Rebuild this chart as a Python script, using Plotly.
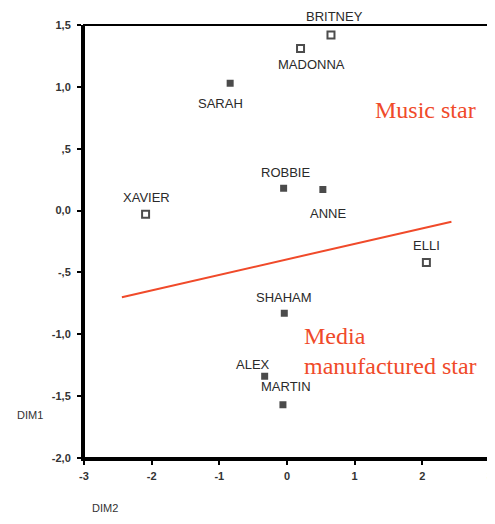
import plotly.graph_objects as go

names = ["BRITNEY", "MADONNA", "SARAH", "XAVIER", "ROBBIE", "ANNE", "ELLI", "SHAHAM", "ALEX", "MARTIN"]
dim2 = [0.65, 0.20, -0.84, -2.09, -0.05, 0.53, 2.06, -0.04, -0.33, -0.06]
dim1 = [1.42, 1.31, 1.03, -0.03, 0.18, 0.17, -0.42, -0.83, -1.34, -1.57]

line_x = [-2.44, 2.43]
line_y = [-0.70, -0.09]

x_ticks = [-3, -2, -1, 0, 1, 2, 3]
x_ticktext = ["-3", "-2", "-1", "0", "1", "2", "3"]
y_ticks = [1.5, 1.0, 0.5, 0.0, -0.5, -1.0, -1.5, -2.0]
y_ticktext = ["1,5", "1,0", ",5", "0,0", "-,5", "-1,0", "-1,5", "-2,0"]

# label offsets in pixels (style only)
label_dx = [4, 11, -10, 1, 2, 5, 0, 0, -12, 3]
label_dy = [18, -16, -20, 17, 16, -24, 17, 16, 12, 18]
hollow = [True, True, False, True, False, False, True, False, False, False]

RED = "#f04a2a"
OFF = 8  # page body margin
W, H = 495 - OFF, 524 - 2 * OFF
L, R, T, B = 84 - OFF, 5, 25 - OFF, 58
pw, ph = W - L - R, H - T - B

fig = go.Figure()

fig.add_trace(go.Scatter(
    x=line_x, y=line_y, mode="lines",
    line=dict(color=RED, width=2), hoverinfo="skip", showlegend=False))

fig.add_trace(go.Scatter(
    x=dim2, y=dim1, mode="markers",
    marker=dict(symbol=["square-open" if h else "square" for h in hollow],
                size=[7 if h else 5 for h in hollow], color="black",
                line=dict(color="black", width=2)),
    text=names, showlegend=False))

for n, xv, yv, dx, dy in zip(names, dim2, dim1, label_dx, label_dy):
    fig.add_annotation(x=xv, y=yv, text=n, showarrow=False, xshift=dx, yshift=dy,
                       font=dict(family="Arial", size=13, color="#2a2a2a"))

fig.add_annotation(x=2.04, y=0.81, text="Music star", showarrow=False,
                   xanchor="center",
                   font=dict(family="Liberation Serif", size=24, color=RED))
fig.add_annotation(x=0.22, y=-1.01, text="Media", showarrow=False, xanchor="left",
                   font=dict(family="Liberation Serif", size=24, color=RED))
fig.add_annotation(x=0.22, y=-1.26, text="manufactured star", showarrow=False,
                   xanchor="left",
                   font=dict(family="Liberation Serif", size=24, color=RED))


def to_paper(sx, sy):
    # screen pixel (reference image coords) -> plot-area paper coords
    return (sx - OFF - L) / pw, 1 - (sy - OFF - T) / ph


for txt, sx, sy in [("DIM1", 30, 415), ("DIM2", 105, 508)]:
    px, py = to_paper(sx, sy)
    fig.add_annotation(x=px, y=py, xref="paper", yref="paper", text=txt,
                       showarrow=False, xanchor="center", yanchor="middle",
                       font=dict(family="Arial", size=11, color="#333333"))

tickfont = dict(family="Arial", size=11, color="#333333", weight="bold")
fig.update_layout(
    width=W, height=H,
    margin=dict(l=L, r=R, t=T, b=B),
    paper_bgcolor="white", plot_bgcolor="white",
    showlegend=False,
    xaxis=dict(range=[-3, 3], tickvals=x_ticks, ticktext=x_ticktext, automargin=False,
               showgrid=False, zeroline=False, showline=True, linecolor="black",
               linewidth=3, ticks="outside", ticklen=4, tickwidth=2, tickcolor="black",
               ticklabelstandoff=2, ticklabeloverflow="allow", tickfont=tickfont),
    yaxis=dict(range=[-2, 1.5], tickvals=y_ticks, ticktext=y_ticktext, automargin=False,
               showgrid=False, zeroline=False, showline=True, linecolor="black",
               linewidth=3, ticks="outside", ticklen=4, tickwidth=2, tickcolor="black",
               ticklabelstandoff=4, ticklabeloverflow="allow", tickfont=tickfont),
)

fig.add_shape(type="rect", xref="paper", yref="paper", x0=0, y0=0, x1=1, y1=1,
              line=dict(color="black", width=2), layer="above")

fig.write_html("out.html")
